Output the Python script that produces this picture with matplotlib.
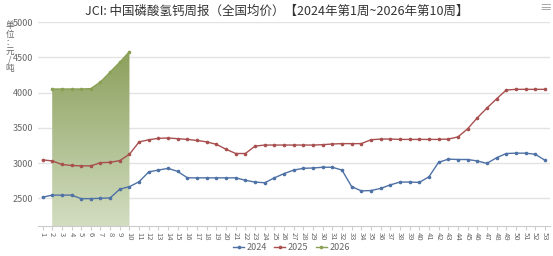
import numpy as np
import matplotlib
matplotlib.use("Agg")
import matplotlib.pyplot as plt
from matplotlib.patches import PathPatch

plt.rcParams['font.family'] = ['Noto Sans CJK SC', 'DejaVu Sans']

# weeks 1..53
weeks = list(range(1, 54))

price_2024 = [2515, 2545, 2545, 2545, 2495, 2495, 2500, 2505, 2630, 2665,
              2735, 2875, 2900, 2925, 2880, 2790, 2790, 2790, 2790, 2790,
              2790, 2755, 2730, 2720, 2790, 2850, 2900, 2925, 2930, 2940,
              2940, 2900, 2665, 2605, 2610, 2640, 2690, 2730, 2730, 2725,
              2805, 3010, 3055, 3050, 3050, 3030, 2995, 3075, 3135, 3140,
              3140, 3125, 3040]

price_2025 = [3045, 3030, 2980, 2965, 2960, 2960, 3005, 3010, 3035, 3125,
              3300, 3330, 3350, 3355, 3345, 3335, 3320, 3300, 3265, 3195,
              3135, 3135, 3240, 3255, 3255, 3255, 3255, 3255, 3255, 3260,
              3270, 3275, 3275, 3275, 3330, 3340, 3340, 3335, 3335, 3335,
              3335, 3335, 3340, 3370, 3485, 3640, 3780, 3910, 4035, 4045,
              4045, 4045, 4045]

weeks_2026 = [2, 3, 4, 5, 6, 7, 8, 9, 10]
price_2026 = [4050, 4050, 4050, 4050, 4055, 4150, 4290, 4430, 4580]

yticks = [2500, 3000, 3500, 4000, 4500, 5000]

c24 = '#4f72a6'
c25 = '#a8504f'
c26 = '#8aa055'

fig = plt.figure(figsize=(5.53, 2.56), dpi=100)
ax = fig.add_axes([37.7 / 553, 30 / 256, 512 / 553, 204 / 256])
ymin, ymax = 2107, 5000
ax.set_xlim(0.5, 53.5)
ax.set_ylim(ymin, ymax)

# gradient area under the 2026 line
poly = ax.fill_between(weeks_2026, price_2026, ymin, color='none', lw=0)
grad = np.linspace(0, 1, 256).reshape(-1, 1)
top = np.array([140, 160, 92]) / 255
bot = np.array([210, 221, 193]) / 255
img = (top + (bot - top) * grad).reshape(256, 1, 3)
im = ax.imshow(img, aspect='auto', extent=[2, 10, ymin, max(price_2026)],
               origin='upper', zorder=1)
patch = PathPatch(poly.get_paths()[0], transform=ax.transData,
                  facecolor='none', edgecolor='none')
ax.add_patch(patch)
im.set_clip_path(patch)

ax.plot(weeks, price_2024, color=c24, lw=1, marker='o', ms=1.6, label='2024', zorder=3)
ax.plot(weeks, price_2025, color=c25, lw=1, marker='o', ms=1.6, label='2025', zorder=3)
ax.plot(weeks_2026, price_2026, color=c26, lw=1, marker='o', ms=1.6, label='2026', zorder=3)

ax.set_yticks(yticks)
ax.set_yticklabels([str(v) for v in yticks], fontsize=6.5, color='#666666')
ax.set_xticks(weeks)
ax.set_xticklabels([str(w) for w in weeks], fontsize=5.5, color='#666666', rotation=-90)
ax.tick_params(axis='y', length=0, pad=3)
ax.tick_params(axis='x', length=3, color='#cccccc', pad=1.5)
ax.grid(axis='y', color='#e3e3e3', lw=1)
ax.set_axisbelow(True)
for s in ['top', 'right', 'left']:
    ax.spines[s].set_visible(False)
ax.spines['bottom'].set_color('#cccccc')

fig.text(0.5, 0.955, 'JCI: 中国磷酸氢钙周报（全国均价）【2024年第1周~2026年第10周】',
         ha='center', va='center', fontsize=9, color='#333333')
fig.text(0.987, 0.965, '≡', ha='center', va='center', fontsize=9, color='#999999')
fig.text(10 / 553, 1 - 47 / 256, '单\n位\n：\n元\n/\n吨', ha='center', va='center',
         fontsize=6.2, color='#666666', linespacing=0.95)

fig.legend(loc='center', bbox_to_anchor=(0.527, 1 - 248 / 256), ncol=3, frameon=False,
           fontsize=6.5, labelcolor='#666666', handlelength=1.2, handletextpad=0.3,
           columnspacing=0.8, borderpad=0.1)

fig.savefig('out.png', dpi=100)
